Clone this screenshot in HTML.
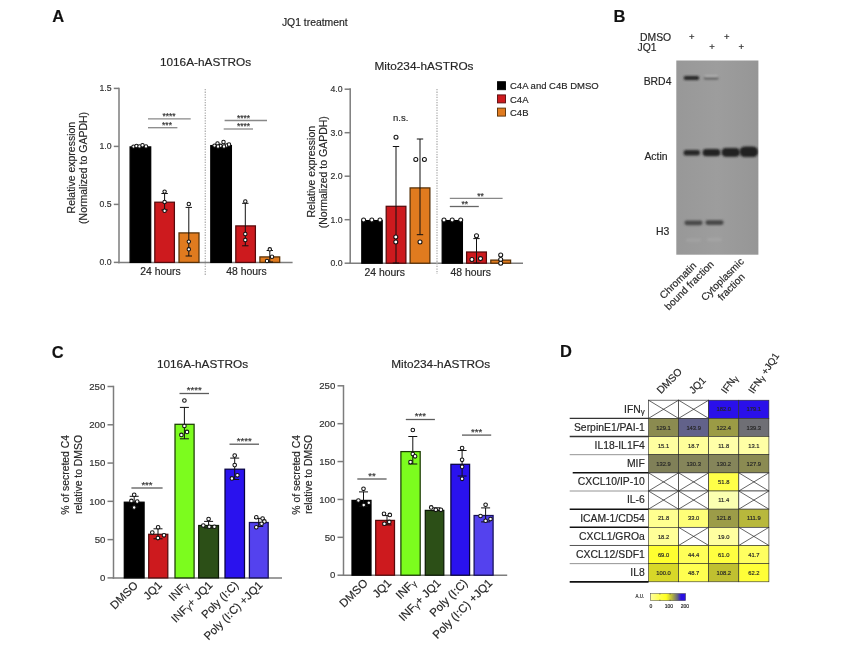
<!DOCTYPE html>
<html><head><meta charset="utf-8"><title>Figure</title>
<style>html,body{margin:0;padding:0;background:#fff;}body{width:860px;height:647px;overflow:hidden;}svg{display:block;font-family:'Liberation Sans', sans-serif;}text{stroke:#333;stroke-width:0.18px;}</style>
</head><body>
<svg width="860" height="647" viewBox="0 0 860 647">
<rect width="860" height="647" fill="#fff"/>
<text x="52.3" y="21.5" font-size="16.5" text-anchor="start" fill="#111" font-weight="bold">A</text>
<text x="314.8" y="25.5" font-size="10.4" text-anchor="middle" fill="#222">JQ1 treatment</text>
<text x="205.5" y="65.5" font-size="11.8" text-anchor="middle" fill="#222">1016A-hASTROs</text>
<text x="424" y="69.8" font-size="11.8" text-anchor="middle" fill="#222">Mito234-hASTROs</text>
<line x1="119" y1="87.65" x2="119" y2="263.15" stroke="#7d7d7d" stroke-width="1.5"/>
<line x1="118.25" y1="262.4" x2="292.6" y2="262.4" stroke="#7d7d7d" stroke-width="1.5"/>
<line x1="113.8" y1="262.4" x2="119" y2="262.4" stroke="#7d7d7d" stroke-width="1.5"/>
<text x="111.6" y="265.4" font-size="8.7" text-anchor="end" fill="#333">0.0</text>
<line x1="113.8" y1="204.39999999999998" x2="119" y2="204.39999999999998" stroke="#7d7d7d" stroke-width="1.5"/>
<text x="111.6" y="207.39999999999998" font-size="8.7" text-anchor="end" fill="#333">0.5</text>
<line x1="113.8" y1="146.39999999999998" x2="119" y2="146.39999999999998" stroke="#7d7d7d" stroke-width="1.5"/>
<text x="111.6" y="149.39999999999998" font-size="8.7" text-anchor="end" fill="#333">1.0</text>
<line x1="113.8" y1="88.39999999999998" x2="119" y2="88.39999999999998" stroke="#7d7d7d" stroke-width="1.5"/>
<text x="111.6" y="91.39999999999998" font-size="8.7" text-anchor="end" fill="#333">1.5</text>
<text x="74.6" y="167.6" font-size="10.5" text-anchor="middle" fill="#222" transform="rotate(-90 74.6 167.6)">Relative expression</text>
<text x="87.2" y="167.9" font-size="10.5" text-anchor="middle" fill="#222" transform="rotate(-90 87.2 167.9)">(Normalized to GAPDH)</text>
<line x1="205.3" y1="89" x2="205.3" y2="276" stroke="#b4b4b4" stroke-width="1.4" stroke-dasharray="1.3 1.3"/>
<rect x="130.10" y="146.90" width="20.60" height="115.50" fill="#000" stroke="#000" stroke-width="1.25"/>
<rect x="154.80" y="202.20" width="19.60" height="60.20" fill="#cd1a1e" stroke="#560a0c" stroke-width="1.25"/>
<rect x="179.00" y="232.90" width="20.00" height="29.50" fill="#e07b1f" stroke="#573006" stroke-width="1.25"/>
<rect x="210.80" y="145.60" width="20.60" height="116.80" fill="#000" stroke="#000" stroke-width="1.25"/>
<rect x="235.80" y="225.90" width="19.60" height="36.50" fill="#cd1a1e" stroke="#560a0c" stroke-width="1.25"/>
<rect x="259.90" y="256.90" width="19.80" height="5.50" fill="#e07b1f" stroke="#573006" stroke-width="1.25"/>
<line x1="164.6" y1="193.5" x2="164.6" y2="210" stroke="#111" stroke-width="1.0"/>
<line x1="161.4" y1="193.5" x2="167.79999999999998" y2="193.5" stroke="#111" stroke-width="1.0"/>
<line x1="161.4" y1="210" x2="167.79999999999998" y2="210" stroke="#111" stroke-width="1.0"/>
<line x1="188.8" y1="207.4" x2="188.8" y2="256" stroke="#111" stroke-width="1.0"/>
<line x1="185.60000000000002" y1="207.4" x2="192.0" y2="207.4" stroke="#111" stroke-width="1.0"/>
<line x1="185.60000000000002" y1="256" x2="192.0" y2="256" stroke="#111" stroke-width="1.0"/>
<line x1="245.3" y1="203.3" x2="245.3" y2="245.8" stroke="#111" stroke-width="1.0"/>
<line x1="242.10000000000002" y1="203.3" x2="248.5" y2="203.3" stroke="#111" stroke-width="1.0"/>
<line x1="242.10000000000002" y1="245.8" x2="248.5" y2="245.8" stroke="#111" stroke-width="1.0"/>
<line x1="269.8" y1="250.5" x2="269.8" y2="262" stroke="#111" stroke-width="1.0"/>
<line x1="266.6" y1="250.5" x2="273.0" y2="250.5" stroke="#111" stroke-width="1.0"/>
<line x1="266.6" y1="262" x2="273.0" y2="262" stroke="#111" stroke-width="1.0"/>
<circle cx="133.5" cy="146.6" r="1.7" fill="#fff" stroke="#111" stroke-width="1.05"/>
<circle cx="136.5" cy="146" r="1.7" fill="#fff" stroke="#111" stroke-width="1.05"/>
<circle cx="139.5" cy="146.4" r="1.7" fill="#fff" stroke="#111" stroke-width="1.05"/>
<circle cx="142.5" cy="145.2" r="1.7" fill="#fff" stroke="#111" stroke-width="1.05"/>
<circle cx="146" cy="146.4" r="1.7" fill="#fff" stroke="#111" stroke-width="1.05"/>
<circle cx="164.6" cy="191.6" r="1.7" fill="#fff" stroke="#111" stroke-width="1.05"/>
<circle cx="164.6" cy="202" r="1.7" fill="#fff" stroke="#111" stroke-width="1.05"/>
<circle cx="164.6" cy="210.7" r="1.7" fill="#fff" stroke="#111" stroke-width="1.05"/>
<circle cx="188.8" cy="204" r="1.7" fill="#fff" stroke="#111" stroke-width="1.05"/>
<circle cx="188.8" cy="241.6" r="1.7" fill="#fff" stroke="#111" stroke-width="1.05"/>
<circle cx="188.8" cy="249.3" r="1.7" fill="#fff" stroke="#111" stroke-width="1.05"/>
<circle cx="214.5" cy="145.6" r="1.7" fill="#fff" stroke="#111" stroke-width="1.05"/>
<circle cx="217.5" cy="143.5" r="1.7" fill="#fff" stroke="#111" stroke-width="1.05"/>
<circle cx="220.5" cy="145.8" r="1.7" fill="#fff" stroke="#111" stroke-width="1.05"/>
<circle cx="223.5" cy="142" r="1.7" fill="#fff" stroke="#111" stroke-width="1.05"/>
<circle cx="226.5" cy="145.5" r="1.7" fill="#fff" stroke="#111" stroke-width="1.05"/>
<circle cx="229" cy="144.5" r="1.7" fill="#fff" stroke="#111" stroke-width="1.05"/>
<circle cx="218" cy="146.5" r="1.7" fill="#fff" stroke="#111" stroke-width="1.05"/>
<circle cx="224" cy="146.5" r="1.7" fill="#fff" stroke="#111" stroke-width="1.05"/>
<circle cx="245.3" cy="201.4" r="1.7" fill="#fff" stroke="#111" stroke-width="1.05"/>
<circle cx="245.3" cy="234" r="1.7" fill="#fff" stroke="#111" stroke-width="1.05"/>
<circle cx="245.3" cy="240" r="1.7" fill="#fff" stroke="#111" stroke-width="1.05"/>
<circle cx="269.8" cy="249.3" r="1.7" fill="#fff" stroke="#111" stroke-width="1.05"/>
<circle cx="272" cy="256.7" r="1.7" fill="#fff" stroke="#111" stroke-width="1.05"/>
<circle cx="267" cy="261" r="1.7" fill="#fff" stroke="#111" stroke-width="1.05"/>
<line x1="148" y1="118.8" x2="190.7" y2="118.8" stroke="#888" stroke-width="1.3"/>
<text x="169" y="119.1" font-size="8.5" text-anchor="middle" fill="#333">****</text>
<line x1="148" y1="127.7" x2="177.4" y2="127.7" stroke="#888" stroke-width="1.3"/>
<text x="167" y="128.0" font-size="8.5" text-anchor="middle" fill="#333">***</text>
<line x1="224.6" y1="120.5" x2="267" y2="120.5" stroke="#888" stroke-width="1.3"/>
<text x="243.5" y="120.8" font-size="8.5" text-anchor="middle" fill="#333">****</text>
<line x1="223.7" y1="129" x2="253" y2="129" stroke="#888" stroke-width="1.3"/>
<text x="243.5" y="129.3" font-size="8.5" text-anchor="middle" fill="#333">****</text>
<text x="160.5" y="274.9" font-size="10.4" text-anchor="middle" fill="#222">24 hours</text>
<text x="246.5" y="274.9" font-size="10.4" text-anchor="middle" fill="#222">48 hours</text>
<line x1="350.2" y1="88.25" x2="350.2" y2="263.95" stroke="#7d7d7d" stroke-width="1.5"/>
<line x1="349.45" y1="263.2" x2="523" y2="263.2" stroke="#7d7d7d" stroke-width="1.5"/>
<line x1="344.6" y1="263.2" x2="350.2" y2="263.2" stroke="#7d7d7d" stroke-width="1.5"/>
<text x="342.5" y="266.2" font-size="8.7" text-anchor="end" fill="#333">0.0</text>
<line x1="344.6" y1="219.7" x2="350.2" y2="219.7" stroke="#7d7d7d" stroke-width="1.5"/>
<text x="342.5" y="222.7" font-size="8.7" text-anchor="end" fill="#333">1.0</text>
<line x1="344.6" y1="176.2" x2="350.2" y2="176.2" stroke="#7d7d7d" stroke-width="1.5"/>
<text x="342.5" y="179.2" font-size="8.7" text-anchor="end" fill="#333">2.0</text>
<line x1="344.6" y1="132.7" x2="350.2" y2="132.7" stroke="#7d7d7d" stroke-width="1.5"/>
<text x="342.5" y="135.7" font-size="8.7" text-anchor="end" fill="#333">3.0</text>
<line x1="344.6" y1="89.19999999999999" x2="350.2" y2="89.19999999999999" stroke="#7d7d7d" stroke-width="1.5"/>
<text x="342.5" y="92.19999999999999" font-size="8.7" text-anchor="end" fill="#333">4.0</text>
<text x="314.9" y="171.7" font-size="10.5" text-anchor="middle" fill="#222" transform="rotate(-90 314.9 171.7)">Relative expression</text>
<text x="327.2" y="172.2" font-size="10.5" text-anchor="middle" fill="#222" transform="rotate(-90 327.2 172.2)">(Normalized to GAPDH)</text>
<line x1="437" y1="89" x2="437" y2="274" stroke="#b4b4b4" stroke-width="1.4" stroke-dasharray="1.3 1.3"/>
<rect x="361.80" y="220.60" width="20.40" height="42.60" fill="#000" stroke="#000" stroke-width="1.25"/>
<rect x="386.20" y="206.30" width="19.70" height="56.90" fill="#cd1a1e" stroke="#560a0c" stroke-width="1.25"/>
<rect x="410.10" y="187.90" width="19.80" height="75.30" fill="#e07b1f" stroke="#573006" stroke-width="1.25"/>
<rect x="442.20" y="220.60" width="20.20" height="42.60" fill="#000" stroke="#000" stroke-width="1.25"/>
<rect x="466.60" y="252.00" width="19.80" height="11.20" fill="#cd1a1e" stroke="#560a0c" stroke-width="1.25"/>
<rect x="490.80" y="260.10" width="19.80" height="3.10" fill="#e07b1f" stroke="#573006" stroke-width="1.25"/>
<line x1="396" y1="146.5" x2="396" y2="263" stroke="#111" stroke-width="1.0"/>
<line x1="392.8" y1="146.5" x2="399.2" y2="146.5" stroke="#111" stroke-width="1.0"/>
<line x1="392.8" y1="263" x2="399.2" y2="263" stroke="#111" stroke-width="1.0"/>
<line x1="420" y1="139" x2="420" y2="234.7" stroke="#111" stroke-width="1.0"/>
<line x1="416.8" y1="139" x2="423.2" y2="139" stroke="#111" stroke-width="1.0"/>
<line x1="416.8" y1="234.7" x2="423.2" y2="234.7" stroke="#111" stroke-width="1.0"/>
<line x1="476.5" y1="238.6" x2="476.5" y2="263" stroke="#111" stroke-width="1.0"/>
<line x1="473.3" y1="238.6" x2="479.7" y2="238.6" stroke="#111" stroke-width="1.0"/>
<line x1="473.3" y1="263" x2="479.7" y2="263" stroke="#111" stroke-width="1.0"/>
<circle cx="363.6" cy="220" r="2" fill="#fff" stroke="#111" stroke-width="1.05"/>
<circle cx="371.8" cy="220" r="2" fill="#fff" stroke="#111" stroke-width="1.05"/>
<circle cx="380" cy="220" r="2" fill="#fff" stroke="#111" stroke-width="1.05"/>
<circle cx="396" cy="137.2" r="2" fill="#fff" stroke="#111" stroke-width="1.05"/>
<circle cx="395.8" cy="237" r="2" fill="#fff" stroke="#111" stroke-width="1.05"/>
<circle cx="395.8" cy="242" r="2" fill="#fff" stroke="#111" stroke-width="1.05"/>
<circle cx="415.8" cy="159.5" r="2" fill="#fff" stroke="#111" stroke-width="1.05"/>
<circle cx="424.4" cy="159.5" r="2" fill="#fff" stroke="#111" stroke-width="1.05"/>
<circle cx="420" cy="241.9" r="2" fill="#fff" stroke="#111" stroke-width="1.05"/>
<circle cx="444" cy="220" r="2" fill="#fff" stroke="#111" stroke-width="1.05"/>
<circle cx="452.2" cy="220" r="2" fill="#fff" stroke="#111" stroke-width="1.05"/>
<circle cx="460.7" cy="220" r="2" fill="#fff" stroke="#111" stroke-width="1.05"/>
<circle cx="476.5" cy="235.8" r="2" fill="#fff" stroke="#111" stroke-width="1.05"/>
<circle cx="471.9" cy="259.5" r="2" fill="#fff" stroke="#111" stroke-width="1.05"/>
<circle cx="480.5" cy="258.6" r="2" fill="#fff" stroke="#111" stroke-width="1.05"/>
<circle cx="500.7" cy="254.9" r="2" fill="#fff" stroke="#111" stroke-width="1.05"/>
<circle cx="500.7" cy="259.5" r="2" fill="#fff" stroke="#111" stroke-width="1.05"/>
<circle cx="500.7" cy="263.3" r="2" fill="#fff" stroke="#111" stroke-width="1.05"/>
<text x="400.7" y="120.5" font-size="9.5" text-anchor="middle" fill="#222">n.s.</text>
<line x1="449.8" y1="198.4" x2="502.6" y2="198.4" stroke="#888" stroke-width="1.3"/>
<text x="480.5" y="198.70000000000002" font-size="8.5" text-anchor="middle" fill="#333">**</text>
<line x1="449.8" y1="206.5" x2="478.8" y2="206.5" stroke="#666" stroke-width="1.3"/>
<text x="464.7" y="206.8" font-size="8.5" text-anchor="middle" fill="#333">**</text>
<text x="384.7" y="275.6" font-size="10.4" text-anchor="middle" fill="#222">24 hours</text>
<text x="470.7" y="275.6" font-size="10.4" text-anchor="middle" fill="#222">48 hours</text>
<rect x="497.50" y="81.70" width="8.00" height="8.00" fill="#000" stroke="#000" stroke-width="0.9"/>
<text x="510" y="89.4" font-size="9.5" text-anchor="start" fill="#222">C4A and C4B DMSO</text>
<rect x="497.50" y="94.90" width="8.00" height="8.00" fill="#cd1a1e" stroke="#560a0c" stroke-width="0.9"/>
<text x="510" y="102.60000000000001" font-size="9.5" text-anchor="start" fill="#222">C4A</text>
<rect x="497.50" y="108.10" width="8.00" height="8.00" fill="#e07b1f" stroke="#573006" stroke-width="0.9"/>
<text x="510" y="115.80000000000001" font-size="9.5" text-anchor="start" fill="#222">C4B</text>
<text x="613.4" y="21.5" font-size="16.5" text-anchor="start" fill="#111" font-weight="bold">B</text>
<text x="640" y="40.7" font-size="10.4" text-anchor="start" fill="#222">DMSO</text>
<text x="637.5" y="51.2" font-size="10.4" text-anchor="start" fill="#222">JQ1</text>
<text x="691.9" y="39.7" font-size="9.5" text-anchor="middle" fill="#222" stroke="#222" stroke-width="0.25">+</text>
<text x="726.7" y="39.7" font-size="9.5" text-anchor="middle" fill="#222" stroke="#222" stroke-width="0.25">+</text>
<text x="712" y="50.4" font-size="9.5" text-anchor="middle" fill="#222" stroke="#222" stroke-width="0.25">+</text>
<text x="741.4" y="50.4" font-size="9.5" text-anchor="middle" fill="#222" stroke="#222" stroke-width="0.25">+</text>
<defs><linearGradient id="gel" x1="0" y1="0" x2="1" y2="0"><stop offset="0" stop-color="#989898"/><stop offset="0.5" stop-color="#9d9d9d"/><stop offset="1" stop-color="#969696"/></linearGradient><filter id="b1" x="-20%" y="-100%" width="140%" height="300%"><feGaussianBlur stdDeviation="0.9"/></filter><filter id="b2" x="-20%" y="-100%" width="140%" height="300%"><feGaussianBlur stdDeviation="1.3"/></filter></defs>
<rect x="676.30" y="60.50" width="82.10" height="194.20" fill="url(#gel)"/>
<clipPath id="gc"><rect x="676.3" y="60.5" width="82.1" height="194.2"/></clipPath><g clip-path="url(#gc)">
<rect x="683.6" y="75.9" width="15.699999999999932" height="4.2" rx="2.1" fill="#262626" opacity="1" filter="url(#b1)"/>
<rect x="703.8" y="76.9" width="14.600000000000023" height="2.6" rx="1.3" fill="#606060" opacity="1" filter="url(#b1)"/>
<rect x="704.5" y="75.4" width="13.5" height="1.6" rx="0.8" fill="#c2c2c2" opacity="0.85" filter="url(#b1)"/>
<rect x="683.5" y="150.0" width="16.5" height="5.6" rx="2.8" fill="#262626" opacity="1" filter="url(#b1)"/>
<rect x="702.5" y="148.9" width="18.0" height="7.4" rx="3.7" fill="#232323" opacity="1" filter="url(#b1)"/>
<rect x="721.5" y="148.1" width="18.5" height="8.6" rx="4.3" fill="#222" opacity="1" filter="url(#b1)"/>
<rect x="739.5" y="146.55" width="18.700000000000045" height="10.5" rx="5.25" fill="#212121" opacity="1" filter="url(#b1)"/>
<rect x="684.4" y="220.4" width="18.200000000000045" height="4.8" rx="2.4" fill="#4a4a4a" opacity="1" filter="url(#b2)"/>
<rect x="705.4" y="220.2" width="18.200000000000045" height="4.8" rx="2.4" fill="#464646" opacity="1" filter="url(#b2)"/>
<rect x="686" y="238.8" width="15" height="3" rx="1.5" fill="#a3a3a3" opacity="1" filter="url(#b2)"/>
<rect x="707" y="238.0" width="15" height="3.2" rx="1.6" fill="#a4a4a4" opacity="1" filter="url(#b2)"/>
</g>
<text x="643.7" y="84.9" font-size="10.4" text-anchor="start" fill="#222">BRD4</text>
<text x="644.4" y="160" font-size="10.4" text-anchor="start" fill="#222">Actin</text>
<text x="656" y="235" font-size="10.4" text-anchor="start" fill="#222">H3</text>
<text x="697" y="266.3" font-size="10.2" text-anchor="end" fill="#222" transform="rotate(-45 697 266.3)">Chromatin</text>
<text x="714.5" y="265" font-size="10.2" text-anchor="end" fill="#222" transform="rotate(-45 714.5 265)">bound fraction</text>
<text x="744.5" y="262.2" font-size="10.2" text-anchor="end" fill="#222" transform="rotate(-45 744.5 262.2)">Cytoplasmic</text>
<text x="745.6" y="277.6" font-size="10.2" text-anchor="end" fill="#222" transform="rotate(-45 745.6 277.6)">fraction</text>
<text x="51.8" y="357.6" font-size="16.5" text-anchor="start" fill="#111" font-weight="bold">C</text>
<text x="202.5" y="367.9" font-size="11.8" text-anchor="middle" fill="#222">1016A-hASTROs</text>
<text x="440.7" y="367.9" font-size="11.8" text-anchor="middle" fill="#222">Mito234-hASTROs</text>
<line x1="113.5" y1="385.75" x2="113.5" y2="578.65" stroke="#7d7d7d" stroke-width="1.5"/>
<line x1="112.75" y1="577.9" x2="282" y2="577.9" stroke="#7d7d7d" stroke-width="1.5"/>
<line x1="107.5" y1="577.9" x2="113.5" y2="577.9" stroke="#7d7d7d" stroke-width="1.5"/>
<text x="105.3" y="581.1" font-size="9.6" text-anchor="end" fill="#333">0</text>
<line x1="107.5" y1="539.62" x2="113.5" y2="539.62" stroke="#7d7d7d" stroke-width="1.5"/>
<text x="105.3" y="542.82" font-size="9.6" text-anchor="end" fill="#333">50</text>
<line x1="107.5" y1="501.34" x2="113.5" y2="501.34" stroke="#7d7d7d" stroke-width="1.5"/>
<text x="105.3" y="504.53999999999996" font-size="9.6" text-anchor="end" fill="#333">100</text>
<line x1="107.5" y1="463.06" x2="113.5" y2="463.06" stroke="#7d7d7d" stroke-width="1.5"/>
<text x="105.3" y="466.26" font-size="9.6" text-anchor="end" fill="#333">150</text>
<line x1="107.5" y1="424.78" x2="113.5" y2="424.78" stroke="#7d7d7d" stroke-width="1.5"/>
<text x="105.3" y="427.97999999999996" font-size="9.6" text-anchor="end" fill="#333">200</text>
<line x1="107.5" y1="386.5" x2="113.5" y2="386.5" stroke="#7d7d7d" stroke-width="1.5"/>
<text x="105.3" y="389.7" font-size="9.6" text-anchor="end" fill="#333">250</text>
<text x="69.2" y="474.8" font-size="10.4" text-anchor="middle" fill="#222" transform="rotate(-90 69.2 474.8)">% of secreted C4</text>
<text x="81.60000000000001" y="474.5" font-size="10.4" text-anchor="middle" fill="#222" transform="rotate(-90 81.60000000000001 474.5)">relative to DMSO</text>
<rect x="124.30" y="502.20" width="19.80" height="75.70" fill="#000" stroke="#000" stroke-width="1.25"/>
<rect x="148.70" y="534.30" width="19.10" height="43.60" fill="#cd1a1e" stroke="#560a0c" stroke-width="1.25"/>
<rect x="175.00" y="424.30" width="19.10" height="153.60" fill="#7cfc1e" stroke="#1c3d05" stroke-width="1.25"/>
<rect x="198.70" y="525.50" width="19.80" height="52.40" fill="#2c4f17" stroke="#0c1a05" stroke-width="1.25"/>
<rect x="225.00" y="469.20" width="19.50" height="108.70" fill="#2a12ee" stroke="#080440" stroke-width="1.25"/>
<rect x="249.40" y="522.50" width="18.80" height="55.40" fill="#5442ee" stroke="#161058" stroke-width="1.25"/>
<line x1="134.2" y1="496.3" x2="134.2" y2="507" stroke="#111" stroke-width="1.0"/>
<line x1="129.7" y1="496.3" x2="138.7" y2="496.3" stroke="#111" stroke-width="1.0"/>
<line x1="129.7" y1="507" x2="138.7" y2="507" stroke="#111" stroke-width="1.0"/>
<line x1="158" y1="528.8" x2="158" y2="538.8" stroke="#111" stroke-width="1.0"/>
<line x1="153.5" y1="528.8" x2="162.5" y2="528.8" stroke="#111" stroke-width="1.0"/>
<line x1="153.5" y1="538.8" x2="162.5" y2="538.8" stroke="#111" stroke-width="1.0"/>
<line x1="184.4" y1="407.4" x2="184.4" y2="438.8" stroke="#111" stroke-width="1.0"/>
<line x1="179.9" y1="407.4" x2="188.9" y2="407.4" stroke="#111" stroke-width="1.0"/>
<line x1="179.9" y1="438.8" x2="188.9" y2="438.8" stroke="#111" stroke-width="1.0"/>
<line x1="208.6" y1="521.4" x2="208.6" y2="527.9" stroke="#111" stroke-width="1.0"/>
<line x1="204.1" y1="521.4" x2="213.1" y2="521.4" stroke="#111" stroke-width="1.0"/>
<line x1="204.1" y1="527.9" x2="213.1" y2="527.9" stroke="#111" stroke-width="1.0"/>
<line x1="234.7" y1="458.1" x2="234.7" y2="479.5" stroke="#111" stroke-width="1.0"/>
<line x1="230.2" y1="458.1" x2="239.2" y2="458.1" stroke="#111" stroke-width="1.0"/>
<line x1="230.2" y1="479.5" x2="239.2" y2="479.5" stroke="#111" stroke-width="1.0"/>
<line x1="258.7" y1="518.4" x2="258.7" y2="526.5" stroke="#111" stroke-width="1.0"/>
<line x1="254.2" y1="518.4" x2="263.2" y2="518.4" stroke="#111" stroke-width="1.0"/>
<line x1="254.2" y1="526.5" x2="263.2" y2="526.5" stroke="#111" stroke-width="1.0"/>
<circle cx="134.2" cy="494.7" r="1.8" fill="#fff" stroke="#111" stroke-width="1.05"/>
<circle cx="131.4" cy="500.9" r="1.8" fill="#fff" stroke="#111" stroke-width="1.05"/>
<circle cx="137.2" cy="501.6" r="1.8" fill="#fff" stroke="#111" stroke-width="1.05"/>
<circle cx="134.2" cy="507.4" r="1.8" fill="#fff" stroke="#111" stroke-width="1.05"/>
<circle cx="158.1" cy="527.2" r="1.8" fill="#fff" stroke="#111" stroke-width="1.05"/>
<circle cx="152.3" cy="532.6" r="1.8" fill="#fff" stroke="#111" stroke-width="1.05"/>
<circle cx="164" cy="535.3" r="1.8" fill="#fff" stroke="#111" stroke-width="1.05"/>
<circle cx="157.9" cy="538.1" r="1.8" fill="#fff" stroke="#111" stroke-width="1.05"/>
<circle cx="184.4" cy="400.5" r="1.8" fill="#fff" stroke="#111" stroke-width="1.05"/>
<circle cx="184.4" cy="426" r="1.8" fill="#fff" stroke="#111" stroke-width="1.05"/>
<circle cx="181.4" cy="434.9" r="1.8" fill="#fff" stroke="#111" stroke-width="1.05"/>
<circle cx="187" cy="431.9" r="1.8" fill="#fff" stroke="#111" stroke-width="1.05"/>
<circle cx="208.6" cy="519" r="1.8" fill="#fff" stroke="#111" stroke-width="1.05"/>
<circle cx="203.3" cy="525.6" r="1.8" fill="#fff" stroke="#111" stroke-width="1.05"/>
<circle cx="209.3" cy="526.7" r="1.8" fill="#fff" stroke="#111" stroke-width="1.05"/>
<circle cx="214.4" cy="526.7" r="1.8" fill="#fff" stroke="#111" stroke-width="1.05"/>
<circle cx="234.7" cy="455.6" r="1.8" fill="#fff" stroke="#111" stroke-width="1.05"/>
<circle cx="234.7" cy="465.1" r="1.8" fill="#fff" stroke="#111" stroke-width="1.05"/>
<circle cx="237.4" cy="475.3" r="1.8" fill="#fff" stroke="#111" stroke-width="1.05"/>
<circle cx="231.9" cy="478.4" r="1.8" fill="#fff" stroke="#111" stroke-width="1.05"/>
<circle cx="256.3" cy="517.2" r="1.8" fill="#fff" stroke="#111" stroke-width="1.05"/>
<circle cx="262.6" cy="518.6" r="1.8" fill="#fff" stroke="#111" stroke-width="1.05"/>
<circle cx="264.4" cy="521.4" r="1.8" fill="#fff" stroke="#111" stroke-width="1.05"/>
<circle cx="261.6" cy="523.7" r="1.8" fill="#fff" stroke="#111" stroke-width="1.05"/>
<circle cx="256.3" cy="527.2" r="1.8" fill="#fff" stroke="#111" stroke-width="1.05"/>
<line x1="131.4" y1="488" x2="162.6" y2="488" stroke="#5c5c5c" stroke-width="1.3"/>
<text x="147.0" y="487.5" font-size="9.6" text-anchor="middle" fill="#333">***</text>
<line x1="179.5" y1="393.5" x2="209" y2="393.5" stroke="#5c5c5c" stroke-width="1.3"/>
<text x="194.25" y="393.0" font-size="9.6" text-anchor="middle" fill="#333">****</text>
<line x1="229.5" y1="444.2" x2="259" y2="444.2" stroke="#5c5c5c" stroke-width="1.3"/>
<text x="244.25" y="443.7" font-size="9.6" text-anchor="middle" fill="#333">****</text>
<text x="138.7" y="585.9" font-size="11.3" text-anchor="end" fill="#222" transform="rotate(-45 138.7 585.9)">DMSO</text>
<text x="162.75" y="585.9" font-size="11.3" text-anchor="end" fill="#222" transform="rotate(-45 162.75 585.9)">JQ1</text>
<text x="189.05" y="585.9" font-size="11.3" text-anchor="end" fill="#222" transform="rotate(-45 189.05 585.9)">INF<tspan font-size="8.5" dy="1.2">γ</tspan></text>
<text x="213.1" y="585.9" font-size="11.3" text-anchor="end" fill="#222" transform="rotate(-45 213.1 585.9)">INF<tspan font-size="8.5" dy="1.2">γ</tspan><tspan dy="-1.2">+ JQ1</tspan></text>
<text x="239.25" y="585.9" font-size="11.3" text-anchor="end" fill="#222" transform="rotate(-45 239.25 585.9)">Poly (I:C)</text>
<text x="263.3" y="585.9" font-size="11.3" text-anchor="end" fill="#222" transform="rotate(-45 263.3 585.9)">Poly (I:C) +JQ1</text>
<line x1="343.5" y1="385.05" x2="343.5" y2="575.95" stroke="#7d7d7d" stroke-width="1.5"/>
<line x1="342.75" y1="575.2" x2="507.2" y2="575.2" stroke="#7d7d7d" stroke-width="1.5"/>
<line x1="337.5" y1="575.2" x2="343.5" y2="575.2" stroke="#7d7d7d" stroke-width="1.5"/>
<text x="335.3" y="578.4000000000001" font-size="9.6" text-anchor="end" fill="#333">0</text>
<line x1="337.5" y1="537.32" x2="343.5" y2="537.32" stroke="#7d7d7d" stroke-width="1.5"/>
<text x="335.3" y="540.5200000000001" font-size="9.6" text-anchor="end" fill="#333">50</text>
<line x1="337.5" y1="499.44000000000005" x2="343.5" y2="499.44000000000005" stroke="#7d7d7d" stroke-width="1.5"/>
<text x="335.3" y="502.64000000000004" font-size="9.6" text-anchor="end" fill="#333">100</text>
<line x1="337.5" y1="461.56000000000006" x2="343.5" y2="461.56000000000006" stroke="#7d7d7d" stroke-width="1.5"/>
<text x="335.3" y="464.76000000000005" font-size="9.6" text-anchor="end" fill="#333">150</text>
<line x1="337.5" y1="423.68" x2="343.5" y2="423.68" stroke="#7d7d7d" stroke-width="1.5"/>
<text x="335.3" y="426.88" font-size="9.6" text-anchor="end" fill="#333">200</text>
<line x1="337.5" y1="385.8" x2="343.5" y2="385.8" stroke="#7d7d7d" stroke-width="1.5"/>
<text x="335.3" y="389.0" font-size="9.6" text-anchor="end" fill="#333">250</text>
<text x="300" y="474.8" font-size="10.4" text-anchor="middle" fill="#222" transform="rotate(-90 300 474.8)">% of secreted C4</text>
<text x="312.4" y="474.5" font-size="10.4" text-anchor="middle" fill="#222" transform="rotate(-90 312.4 474.5)">relative to DMSO</text>
<rect x="352.00" y="500.40" width="19.00" height="74.80" fill="#000" stroke="#000" stroke-width="1.25"/>
<rect x="375.70" y="520.40" width="18.80" height="54.80" fill="#cd1a1e" stroke="#560a0c" stroke-width="1.25"/>
<rect x="400.90" y="451.60" width="19.30" height="123.60" fill="#7cfc1e" stroke="#1c3d05" stroke-width="1.25"/>
<rect x="425.30" y="510.40" width="18.50" height="64.80" fill="#2c4f17" stroke="#0c1a05" stroke-width="1.25"/>
<rect x="450.90" y="464.30" width="18.70" height="110.90" fill="#2a12ee" stroke="#080440" stroke-width="1.25"/>
<rect x="474.10" y="515.50" width="19.00" height="59.70" fill="#5442ee" stroke="#161058" stroke-width="1.25"/>
<line x1="363.5" y1="491.9" x2="363.5" y2="506.3" stroke="#111" stroke-width="1.0"/>
<line x1="359.0" y1="491.9" x2="368.0" y2="491.9" stroke="#111" stroke-width="1.0"/>
<line x1="359.0" y1="506.3" x2="368.0" y2="506.3" stroke="#111" stroke-width="1.0"/>
<line x1="387" y1="515.6" x2="387" y2="524.9" stroke="#111" stroke-width="1.0"/>
<line x1="382.5" y1="515.6" x2="391.5" y2="515.6" stroke="#111" stroke-width="1.0"/>
<line x1="382.5" y1="524.9" x2="391.5" y2="524.9" stroke="#111" stroke-width="1.0"/>
<line x1="412.8" y1="436.5" x2="412.8" y2="464" stroke="#111" stroke-width="1.0"/>
<line x1="408.3" y1="436.5" x2="417.3" y2="436.5" stroke="#111" stroke-width="1.0"/>
<line x1="408.3" y1="464" x2="417.3" y2="464" stroke="#111" stroke-width="1.0"/>
<line x1="436" y1="507.8" x2="436" y2="510.6" stroke="#111" stroke-width="1.0"/>
<line x1="431.5" y1="507.8" x2="440.5" y2="507.8" stroke="#111" stroke-width="1.0"/>
<line x1="431.5" y1="510.6" x2="440.5" y2="510.6" stroke="#111" stroke-width="1.0"/>
<line x1="462.1" y1="450.5" x2="462.1" y2="476" stroke="#111" stroke-width="1.0"/>
<line x1="457.6" y1="450.5" x2="466.6" y2="450.5" stroke="#111" stroke-width="1.0"/>
<line x1="457.6" y1="476" x2="466.6" y2="476" stroke="#111" stroke-width="1.0"/>
<line x1="485.6" y1="507.9" x2="485.6" y2="521.9" stroke="#111" stroke-width="1.0"/>
<line x1="481.1" y1="507.9" x2="490.1" y2="507.9" stroke="#111" stroke-width="1.0"/>
<line x1="481.1" y1="521.9" x2="490.1" y2="521.9" stroke="#111" stroke-width="1.0"/>
<circle cx="363.5" cy="488.8" r="1.8" fill="#fff" stroke="#111" stroke-width="1.05"/>
<circle cx="358.4" cy="500.5" r="1.8" fill="#fff" stroke="#111" stroke-width="1.05"/>
<circle cx="368.8" cy="502.8" r="1.8" fill="#fff" stroke="#111" stroke-width="1.05"/>
<circle cx="363.7" cy="505.1" r="1.8" fill="#fff" stroke="#111" stroke-width="1.05"/>
<circle cx="384" cy="513.7" r="1.8" fill="#fff" stroke="#111" stroke-width="1.05"/>
<circle cx="389.8" cy="514.9" r="1.8" fill="#fff" stroke="#111" stroke-width="1.05"/>
<circle cx="389.3" cy="521.9" r="1.8" fill="#fff" stroke="#111" stroke-width="1.05"/>
<circle cx="384.4" cy="523.7" r="1.8" fill="#fff" stroke="#111" stroke-width="1.05"/>
<circle cx="412.8" cy="430" r="1.8" fill="#fff" stroke="#111" stroke-width="1.05"/>
<circle cx="412.8" cy="454" r="1.8" fill="#fff" stroke="#111" stroke-width="1.05"/>
<circle cx="415.1" cy="456.3" r="1.8" fill="#fff" stroke="#111" stroke-width="1.05"/>
<circle cx="410.5" cy="462.1" r="1.8" fill="#fff" stroke="#111" stroke-width="1.05"/>
<circle cx="431.2" cy="507.4" r="1.8" fill="#fff" stroke="#111" stroke-width="1.05"/>
<circle cx="435.8" cy="509.8" r="1.8" fill="#fff" stroke="#111" stroke-width="1.05"/>
<circle cx="440.9" cy="509.8" r="1.8" fill="#fff" stroke="#111" stroke-width="1.05"/>
<circle cx="462.1" cy="448.1" r="1.8" fill="#fff" stroke="#111" stroke-width="1.05"/>
<circle cx="462.1" cy="459.8" r="1.8" fill="#fff" stroke="#111" stroke-width="1.05"/>
<circle cx="462.1" cy="466.7" r="1.8" fill="#fff" stroke="#111" stroke-width="1.05"/>
<circle cx="462.1" cy="478.8" r="1.8" fill="#fff" stroke="#111" stroke-width="1.05"/>
<circle cx="485.6" cy="504.7" r="1.8" fill="#fff" stroke="#111" stroke-width="1.05"/>
<circle cx="480.5" cy="516" r="1.8" fill="#fff" stroke="#111" stroke-width="1.05"/>
<circle cx="490.5" cy="519.1" r="1.8" fill="#fff" stroke="#111" stroke-width="1.05"/>
<circle cx="485.6" cy="520.7" r="1.8" fill="#fff" stroke="#111" stroke-width="1.05"/>
<line x1="357.3" y1="479" x2="386.6" y2="479" stroke="#5c5c5c" stroke-width="1.3"/>
<text x="371.95000000000005" y="478.5" font-size="9.6" text-anchor="middle" fill="#333">**</text>
<line x1="405.8" y1="419.5" x2="434.9" y2="419.5" stroke="#5c5c5c" stroke-width="1.3"/>
<text x="420.35" y="419.0" font-size="9.6" text-anchor="middle" fill="#333">***</text>
<line x1="462" y1="435.1" x2="491.2" y2="435.1" stroke="#5c5c5c" stroke-width="1.3"/>
<text x="476.6" y="434.6" font-size="9.6" text-anchor="middle" fill="#333">***</text>
<text x="368.5" y="583.7" font-size="11.5" text-anchor="end" fill="#222" transform="rotate(-45 368.5 583.7)">DMSO</text>
<text x="392.1" y="583.7" font-size="11.5" text-anchor="end" fill="#222" transform="rotate(-45 392.1 583.7)">JQ1</text>
<text x="416.55" y="583.7" font-size="11.5" text-anchor="end" fill="#222" transform="rotate(-45 416.55 583.7)">INF<tspan font-size="8.5" dy="1.2">γ</tspan></text>
<text x="441.55" y="583.7" font-size="11.5" text-anchor="end" fill="#222" transform="rotate(-45 441.55 583.7)">INF<tspan font-size="8.5" dy="1.2">γ</tspan><tspan dy="-1.2">+ JQ1</tspan></text>
<text x="468.25" y="583.7" font-size="11.5" text-anchor="end" fill="#222" transform="rotate(-45 468.25 583.7)">Poly (I:C)</text>
<text x="493.1" y="583.7" font-size="11.5" text-anchor="end" fill="#222" transform="rotate(-45 493.1 583.7)">Poly (I:C) +JQ1</text>
<text x="560" y="357.4" font-size="16.5" text-anchor="start" fill="#111" font-weight="bold">D</text>
<rect x="648.50" y="400.20" width="30.10" height="18.16" fill="#fff" stroke="#333" stroke-width="0.7"/>
<line x1="648.5" y1="400.2" x2="678.6" y2="418.36" stroke="#222" stroke-width="0.7"/>
<line x1="648.5" y1="418.36" x2="678.6" y2="400.2" stroke="#222" stroke-width="0.7"/>
<rect x="678.60" y="400.20" width="30.10" height="18.16" fill="#fff" stroke="#333" stroke-width="0.7"/>
<line x1="678.6" y1="400.2" x2="708.7" y2="418.36" stroke="#222" stroke-width="0.7"/>
<line x1="678.6" y1="418.36" x2="708.7" y2="400.2" stroke="#222" stroke-width="0.7"/>
<rect x="708.70" y="400.20" width="30.10" height="18.16" fill="#2a10ea" stroke="#2a2a2a" stroke-width="0.6"/>
<text x="723.75" y="411.38" font-size="5.8" text-anchor="middle" fill="#1a1a1a">182.0</text>
<rect x="738.80" y="400.20" width="30.10" height="18.16" fill="#2a10ea" stroke="#2a2a2a" stroke-width="0.6"/>
<text x="753.85" y="411.38" font-size="5.8" text-anchor="middle" fill="#1a1a1a">179.1</text>
<text x="644.8" y="412.6" font-size="10.4" text-anchor="end" fill="#222">IFN<tspan font-size="8" dy="1">γ</tspan></text>
<line x1="569.7" y1="418.36" x2="648.5" y2="418.36" stroke="#333" stroke-width="1.4"/>
<rect x="648.50" y="418.36" width="30.10" height="18.16" fill="#8b8b50" stroke="#2a2a2a" stroke-width="0.6"/>
<text x="663.55" y="429.54" font-size="5.8" text-anchor="middle" fill="#1a1a1a">129.1</text>
<rect x="678.60" y="418.36" width="30.10" height="18.16" fill="#62628a" stroke="#2a2a2a" stroke-width="0.6"/>
<text x="693.65" y="429.54" font-size="5.8" text-anchor="middle" fill="#1a1a1a">143.9</text>
<rect x="708.70" y="418.36" width="30.10" height="18.16" fill="#9b9b45" stroke="#2a2a2a" stroke-width="0.6"/>
<text x="723.75" y="429.54" font-size="5.8" text-anchor="middle" fill="#1a1a1a">122.4</text>
<rect x="738.80" y="418.36" width="30.10" height="18.16" fill="#6f6f75" stroke="#2a2a2a" stroke-width="0.6"/>
<text x="753.85" y="429.54" font-size="5.8" text-anchor="middle" fill="#1a1a1a">139.3</text>
<text x="644.8" y="430.76" font-size="10.4" text-anchor="end" fill="#222">SerpinE1/PAI-1</text>
<line x1="569.7" y1="436.52" x2="648.5" y2="436.52" stroke="#333" stroke-width="1.4"/>
<rect x="648.50" y="436.52" width="30.10" height="18.16" fill="#ffffa0" stroke="#2a2a2a" stroke-width="0.6"/>
<text x="663.55" y="447.7" font-size="5.8" text-anchor="middle" fill="#1a1a1a">15.1</text>
<rect x="678.60" y="436.52" width="30.10" height="18.16" fill="#ffff9a" stroke="#2a2a2a" stroke-width="0.6"/>
<text x="693.65" y="447.7" font-size="5.8" text-anchor="middle" fill="#1a1a1a">18.7</text>
<rect x="708.70" y="436.52" width="30.10" height="18.16" fill="#ffffa8" stroke="#2a2a2a" stroke-width="0.6"/>
<text x="723.75" y="447.7" font-size="5.8" text-anchor="middle" fill="#1a1a1a">11.8</text>
<rect x="738.80" y="436.52" width="30.10" height="18.16" fill="#ffffa5" stroke="#2a2a2a" stroke-width="0.6"/>
<text x="753.85" y="447.7" font-size="5.8" text-anchor="middle" fill="#1a1a1a">13.1</text>
<text x="644.8" y="448.92" font-size="10.4" text-anchor="end" fill="#222">IL18-IL1F4</text>
<line x1="569.7" y1="454.68" x2="648.5" y2="454.68" stroke="#888" stroke-width="0.9"/>
<rect x="648.50" y="454.68" width="30.10" height="18.16" fill="#808058" stroke="#2a2a2a" stroke-width="0.6"/>
<text x="663.55" y="465.86" font-size="5.8" text-anchor="middle" fill="#1a1a1a">132.9</text>
<rect x="678.60" y="454.68" width="30.10" height="18.16" fill="#85855a" stroke="#2a2a2a" stroke-width="0.6"/>
<text x="693.65" y="465.86" font-size="5.8" text-anchor="middle" fill="#1a1a1a">130.3</text>
<rect x="708.70" y="454.68" width="30.10" height="18.16" fill="#85855a" stroke="#2a2a2a" stroke-width="0.6"/>
<text x="723.75" y="465.86" font-size="5.8" text-anchor="middle" fill="#1a1a1a">130.2</text>
<rect x="738.80" y="454.68" width="30.10" height="18.16" fill="#8b8b52" stroke="#2a2a2a" stroke-width="0.6"/>
<text x="753.85" y="465.86" font-size="5.8" text-anchor="middle" fill="#1a1a1a">127.9</text>
<text x="644.8" y="467.08" font-size="10.4" text-anchor="end" fill="#222">MIF</text>
<line x1="572.7" y1="472.84" x2="648.5" y2="472.84" stroke="#111" stroke-width="1.5"/>
<rect x="648.50" y="472.84" width="30.10" height="18.16" fill="#fff" stroke="#333" stroke-width="0.7"/>
<line x1="648.5" y1="472.84" x2="678.6" y2="491.0" stroke="#222" stroke-width="0.7"/>
<line x1="648.5" y1="491.0" x2="678.6" y2="472.84" stroke="#222" stroke-width="0.7"/>
<rect x="678.60" y="472.84" width="30.10" height="18.16" fill="#fff" stroke="#333" stroke-width="0.7"/>
<line x1="678.6" y1="472.84" x2="708.7" y2="491.0" stroke="#222" stroke-width="0.7"/>
<line x1="678.6" y1="491.0" x2="708.7" y2="472.84" stroke="#222" stroke-width="0.7"/>
<rect x="708.70" y="472.84" width="30.10" height="18.16" fill="#ffff48" stroke="#2a2a2a" stroke-width="0.6"/>
<text x="723.75" y="484.02" font-size="5.8" text-anchor="middle" fill="#1a1a1a">51.8</text>
<rect x="738.80" y="472.84" width="30.10" height="18.16" fill="#fff" stroke="#333" stroke-width="0.7"/>
<line x1="738.8" y1="472.84" x2="768.9" y2="491.0" stroke="#222" stroke-width="0.7"/>
<line x1="738.8" y1="491.0" x2="768.9" y2="472.84" stroke="#222" stroke-width="0.7"/>
<text x="644.8" y="485.24" font-size="10.4" text-anchor="end" fill="#222">CXCL10/IP-10</text>
<line x1="569.7" y1="491.0" x2="648.5" y2="491.0" stroke="#888" stroke-width="0.9"/>
<rect x="648.50" y="491.00" width="30.10" height="18.16" fill="#fff" stroke="#333" stroke-width="0.7"/>
<line x1="648.5" y1="491.0" x2="678.6" y2="509.16" stroke="#222" stroke-width="0.7"/>
<line x1="648.5" y1="509.16" x2="678.6" y2="491.0" stroke="#222" stroke-width="0.7"/>
<rect x="678.60" y="491.00" width="30.10" height="18.16" fill="#fff" stroke="#333" stroke-width="0.7"/>
<line x1="678.6" y1="491.0" x2="708.7" y2="509.16" stroke="#222" stroke-width="0.7"/>
<line x1="678.6" y1="509.16" x2="708.7" y2="491.0" stroke="#222" stroke-width="0.7"/>
<rect x="708.70" y="491.00" width="30.10" height="18.16" fill="#fbffb0" stroke="#2a2a2a" stroke-width="0.6"/>
<text x="723.75" y="502.18" font-size="5.8" text-anchor="middle" fill="#1a1a1a">11.4</text>
<rect x="738.80" y="491.00" width="30.10" height="18.16" fill="#fff" stroke="#333" stroke-width="0.7"/>
<line x1="738.8" y1="491.0" x2="768.9" y2="509.16" stroke="#222" stroke-width="0.7"/>
<line x1="738.8" y1="509.16" x2="768.9" y2="491.0" stroke="#222" stroke-width="0.7"/>
<text x="644.8" y="503.4" font-size="10.4" text-anchor="end" fill="#222">IL-6</text>
<line x1="569.7" y1="509.16" x2="648.5" y2="509.16" stroke="#111" stroke-width="1.5"/>
<rect x="648.50" y="509.16" width="30.10" height="18.16" fill="#ffff90" stroke="#2a2a2a" stroke-width="0.6"/>
<text x="663.55" y="520.34" font-size="5.8" text-anchor="middle" fill="#1a1a1a">21.8</text>
<rect x="678.60" y="509.16" width="30.10" height="18.16" fill="#ffff78" stroke="#2a2a2a" stroke-width="0.6"/>
<text x="693.65" y="520.34" font-size="5.8" text-anchor="middle" fill="#1a1a1a">33.0</text>
<rect x="708.70" y="509.16" width="30.10" height="18.16" fill="#9c9c48" stroke="#2a2a2a" stroke-width="0.6"/>
<text x="723.75" y="520.34" font-size="5.8" text-anchor="middle" fill="#1a1a1a">121.8</text>
<rect x="738.80" y="509.16" width="30.10" height="18.16" fill="#b8b83c" stroke="#2a2a2a" stroke-width="0.6"/>
<text x="753.85" y="520.34" font-size="5.8" text-anchor="middle" fill="#1a1a1a">111.9</text>
<text x="644.8" y="521.56" font-size="10.4" text-anchor="end" fill="#222">ICAM-1/CD54</text>
<line x1="569.7" y1="527.32" x2="648.5" y2="527.32" stroke="#111" stroke-width="1.5"/>
<rect x="648.50" y="527.32" width="30.10" height="18.16" fill="#ffff98" stroke="#2a2a2a" stroke-width="0.6"/>
<text x="663.55" y="538.5" font-size="5.8" text-anchor="middle" fill="#1a1a1a">18.2</text>
<rect x="678.60" y="527.32" width="30.10" height="18.16" fill="#fff" stroke="#333" stroke-width="0.7"/>
<line x1="678.6" y1="527.3199999999999" x2="708.7" y2="545.4799999999999" stroke="#222" stroke-width="0.7"/>
<line x1="678.6" y1="545.4799999999999" x2="708.7" y2="527.3199999999999" stroke="#222" stroke-width="0.7"/>
<rect x="708.70" y="527.32" width="30.10" height="18.16" fill="#ffffa0" stroke="#2a2a2a" stroke-width="0.6"/>
<text x="723.75" y="538.5" font-size="5.8" text-anchor="middle" fill="#1a1a1a">19.0</text>
<rect x="738.80" y="527.32" width="30.10" height="18.16" fill="#fff" stroke="#333" stroke-width="0.7"/>
<line x1="738.8" y1="527.3199999999999" x2="768.9" y2="545.4799999999999" stroke="#222" stroke-width="0.7"/>
<line x1="738.8" y1="545.4799999999999" x2="768.9" y2="527.3199999999999" stroke="#222" stroke-width="0.7"/>
<text x="644.8" y="539.72" font-size="10.4" text-anchor="end" fill="#222">CXCL1/GROa</text>
<line x1="569.7" y1="545.48" x2="648.5" y2="545.48" stroke="#555" stroke-width="1.0"/>
<rect x="648.50" y="545.48" width="30.10" height="18.16" fill="#ffff30" stroke="#2a2a2a" stroke-width="0.6"/>
<text x="663.55" y="556.66" font-size="5.8" text-anchor="middle" fill="#1a1a1a">69.0</text>
<rect x="678.60" y="545.48" width="30.10" height="18.16" fill="#ffff58" stroke="#2a2a2a" stroke-width="0.6"/>
<text x="693.65" y="556.66" font-size="5.8" text-anchor="middle" fill="#1a1a1a">44.4</text>
<rect x="708.70" y="545.48" width="30.10" height="18.16" fill="#ffff40" stroke="#2a2a2a" stroke-width="0.6"/>
<text x="723.75" y="556.66" font-size="5.8" text-anchor="middle" fill="#1a1a1a">61.0</text>
<rect x="738.80" y="545.48" width="30.10" height="18.16" fill="#ffff60" stroke="#2a2a2a" stroke-width="0.6"/>
<text x="753.85" y="556.66" font-size="5.8" text-anchor="middle" fill="#1a1a1a">41.7</text>
<text x="644.8" y="557.88" font-size="10.4" text-anchor="end" fill="#222">CXCL12/SDF1</text>
<line x1="569.7" y1="563.64" x2="648.5" y2="563.64" stroke="#888" stroke-width="0.9"/>
<rect x="648.50" y="563.64" width="30.10" height="18.16" fill="#d8d828" stroke="#2a2a2a" stroke-width="0.6"/>
<text x="663.55" y="574.82" font-size="5.8" text-anchor="middle" fill="#1a1a1a">100.0</text>
<rect x="678.60" y="563.64" width="30.10" height="18.16" fill="#ffff50" stroke="#2a2a2a" stroke-width="0.6"/>
<text x="693.65" y="574.82" font-size="5.8" text-anchor="middle" fill="#1a1a1a">48.7</text>
<rect x="708.70" y="563.64" width="30.10" height="18.16" fill="#c0c030" stroke="#2a2a2a" stroke-width="0.6"/>
<text x="723.75" y="574.82" font-size="5.8" text-anchor="middle" fill="#1a1a1a">108.2</text>
<rect x="738.80" y="563.64" width="30.10" height="18.16" fill="#ffff38" stroke="#2a2a2a" stroke-width="0.6"/>
<text x="753.85" y="574.82" font-size="5.8" text-anchor="middle" fill="#1a1a1a">62.2</text>
<text x="644.8" y="576.04" font-size="10.4" text-anchor="end" fill="#222">IL8</text>
<line x1="569.7" y1="581.8" x2="648.5" y2="581.8" stroke="#111" stroke-width="1.7"/>
<text x="660.9" y="394.3" font-size="10.3" text-anchor="start" fill="#222" transform="rotate(-45 660.9 394.3)">DMSO</text>
<text x="693.2" y="394.3" font-size="10.3" text-anchor="start" fill="#222" transform="rotate(-45 693.2 394.3)">JQ1</text>
<text x="726" y="394.3" font-size="10" text-anchor="start" fill="#222" transform="rotate(-53 726 394.3)">IFN<tspan font-size="8" dy="1.2">γ</tspan></text>
<text x="753.5" y="394.3" font-size="9.9" text-anchor="start" fill="#222" transform="rotate(-56 753.5 394.3)">IFN<tspan font-size="8" dy="1.2">γ</tspan><tspan dy="-1.2"> +JQ1</tspan></text>
<defs><linearGradient id="cb" x1="0" y1="0" x2="1" y2="0"><stop offset="0" stop-color="#ffffa0"/><stop offset="0.2" stop-color="#ffff60"/><stop offset="0.45" stop-color="#ffff20"/><stop offset="0.62" stop-color="#b4b440"/><stop offset="0.77" stop-color="#66667e"/><stop offset="0.87" stop-color="#2a10e0"/><stop offset="1" stop-color="#2a10e0"/></linearGradient></defs>
<rect x="650.30" y="593.50" width="35.30" height="7.20" fill="url(#cb)" stroke="#444" stroke-width="0.5"/>
<line x1="659.9" y1="593.5" x2="659.9" y2="594.5" stroke="#222" stroke-width="0.6"/>
<line x1="659.9" y1="599.7" x2="659.9" y2="600.7" stroke="#222" stroke-width="0.6"/>
<line x1="670.1" y1="593.5" x2="670.1" y2="594.5" stroke="#222" stroke-width="0.6"/>
<line x1="670.1" y1="599.7" x2="670.1" y2="600.7" stroke="#222" stroke-width="0.6"/>
<text x="635.5" y="597.8" font-size="4.5" text-anchor="start" fill="#333">A.U.</text>
<text x="650.8" y="607.7" font-size="5" text-anchor="middle" fill="#222">0</text>
<text x="668.8" y="607.7" font-size="5" text-anchor="middle" fill="#222">100</text>
<text x="684.9" y="607.7" font-size="5" text-anchor="middle" fill="#222">200</text>
</svg>
</body></html>
